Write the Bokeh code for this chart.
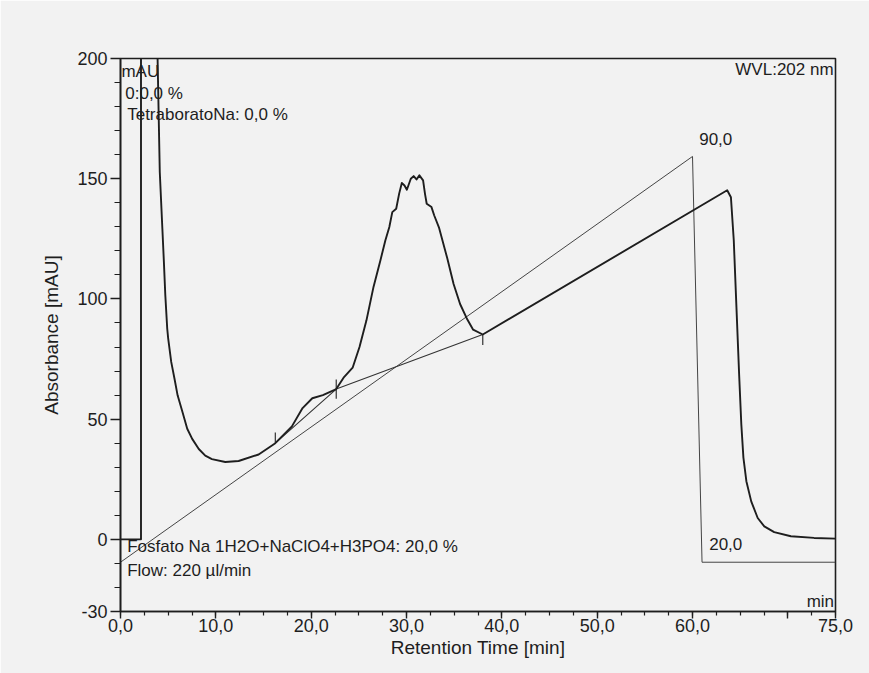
from bokeh.plotting import figure
from bokeh.models import Range1d, FixedTicker, Label
from bokeh.embed import file_html
from bokeh.resources import INLINE

# ---- data ----
chrom_time = [0.0, 2.15, 2.15, 3.85, 3.89, 4.12, 4.39, 4.55, 4.70, 4.90, 5.00, 5.32, 5.66,
              5.99, 6.50, 7.00, 7.52, 8.21, 8.89, 9.59, 10.99, 12.39, 14.49, 16.24,
              17.98, 19.10, 20.12, 21.23, 22.63,
              23.45, 24.35, 25.07, 25.80, 26.54, 27.26, 27.78, 28.20, 28.51, 28.92,
              29.23, 29.51, 29.79, 30.04, 30.45, 30.75, 31.05, 31.35, 31.74, 31.94,
              32.12, 32.62, 32.91, 33.40, 34.27, 34.94, 35.62, 36.31, 36.99, 38.00,
              63.64, 64.03, 64.33, 64.61, 64.89, 65.12, 65.34, 65.65, 66.16, 66.84,
              67.53, 68.57, 70.32, 72.75, 75.0]
chrom_mau = [0.0, 0.0, 240.0, 240.0, 200.0, 152.8, 129.4, 115.5, 101.6, 87.7, 83.6, 73.8, 66.9,
             59.9, 53.0, 46.0, 41.8, 37.6, 34.8, 33.4, 32.2, 32.6, 35.3, 40.0,
             47.0, 54.6, 58.7, 60.0, 62.5,
             67.5, 71.4, 80.0, 91.1, 105.0, 116.0, 124.3, 129.9, 136.1, 137.5,
             143.8, 148.2, 147.2, 145.4, 150.0, 151.1, 149.7, 151.4, 149.3, 143.7,
             139.6, 138.2, 134.7, 129.8, 117.0, 106.2, 97.9, 92.0, 87.2, 85.2,
             145.2, 142.3, 124.3, 96.5, 68.7, 47.9, 34.0, 24.2, 15.8, 8.9,
             5.4, 3.0, 1.3, 0.6, 0.3]

baseline_time = [16.24, 22.63, 38.00]
baseline_mau = [40.0, 62.5, 85.2]
event_low = [40.0, 58.5, 80.8]
event_high = [44.5, 66.5, 85.2]

grad_time = [0, 60, 61, 75]
grad_pct = [20, 90, 20, 20]

x_major = [0, 10, 20, 30, 40, 50, 60, 70, 75]
x_labels = ["0,0", "10,0", "20,0", "30,0", "40,0", "50,0", "60,0", "", "75,0"]
y_major = [-30, 0, 50, 100, 150, 200]
y_labels = ["-30", "0", "50", "100", "150", "200"]

FONT = "Liberation Sans"
INK = "#1e1e1e"
PAPER = "#f2f2f2"

p = figure(width=869, height=673, x_range=Range1d(0, 75), y_range=Range1d(-30, 200),
           output_backend="svg", toolbar_location=None,
           min_border_left=120, min_border_right=34, min_border_top=58, min_border_bottom=62,
           background_fill_color=PAPER, border_fill_color=PAPER)
p.extra_y_ranges = {"grad": Range1d(11.5, 106.9)}
p.grid.visible = False
p.outline_line_color = INK
p.outline_line_width = 1.6
p.outline_line_alpha = 1.0

# gradient (percent) line
p.line(grad_time, grad_pct, y_range_name="grad", line_color="#444444", line_width=1.0)
# integration baseline
p.line(baseline_time, baseline_mau, line_color="#333333", line_width=1.1)
p.segment(x0=baseline_time, y0=event_low, x1=baseline_time, y1=event_high,
          line_color="#333333", line_width=1.2)
# chromatogram
p.line(chrom_time, chrom_mau, line_color=INK, line_width=1.9, line_join="round")

# axes
p.xaxis.ticker = FixedTicker(ticks=x_major, minor_ticks=[i * 2.5 for i in range(31)])
p.xaxis.major_label_overrides = {t: s for t, s in zip(x_major, x_labels)}
p.yaxis.ticker = FixedTicker(ticks=y_major, minor_ticks=list(range(-30, 201, 10)))
p.yaxis.major_label_overrides = {t: s for t, s in zip(y_major, y_labels)}

for ax in (p.xaxis[0], p.yaxis[0]):
    ax.axis_line_color = INK
    ax.axis_line_width = 1.6
    ax.major_tick_line_color = INK
    ax.minor_tick_line_color = INK
    ax.major_tick_line_width = 1.4
    ax.minor_tick_line_width = 1.2
    ax.major_tick_in = 0
    ax.minor_tick_in = 0
    ax.major_label_text_font = FONT
    ax.major_label_text_font_size = "18px"
    ax.major_label_text_color = INK
    ax.axis_label_text_font = FONT
    ax.axis_label_text_font_size = "19px"
    ax.axis_label_text_font_style = "normal"
    ax.axis_label_text_color = INK

p.xaxis.axis_label = "Retention Time [min]"
p.xaxis.major_tick_out = 7
p.xaxis.minor_tick_out = 4
p.xaxis.major_label_standoff = 0
p.xaxis.axis_label_standoff = 2

p.yaxis.axis_label = "Absorbance [mAU]"
p.yaxis.major_tick_out = 10
p.yaxis.minor_tick_out = 6
p.yaxis.major_label_standoff = 3
p.yaxis.axis_label_standoff = 12

def add_text(x, y, text, align="left", size="17px"):
    p.add_layout(Label(x=x, y=y, text=text, text_align=align, text_baseline="top",
                       text_font=FONT, text_font_size=size, text_color=INK))

add_text(0.1, 198.5, "mAU")
add_text(0.5, 189.6, "0:0,0 %")
add_text(0.7, 180.5, "TetraboratoNa: 0,0 %")
add_text(74.8, 199.2, "WVL:202 nm", align="right")
add_text(60.7, 169.2, "90,0")
add_text(0.7, 0.8, "Fosfato Na 1H2O+NaClO4+H3PO4: 20,0 %")
add_text(0.7, -9.2, "Flow: 220 µl/min")
add_text(61.75, 0.4, "20,0")
add_text(74.85, -21.7, "min", align="right")

open("out.html", "w").write(file_html(p, INLINE))
